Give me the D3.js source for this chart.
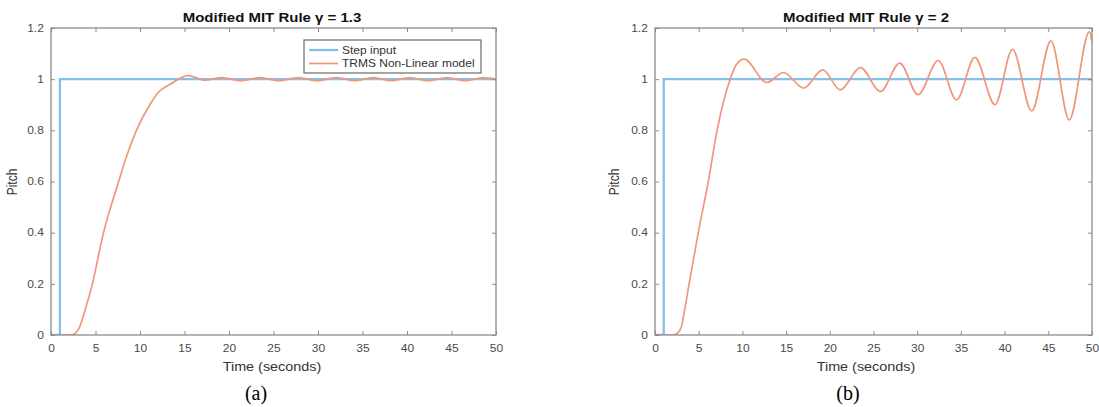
<!DOCTYPE html>
<html>
<head>
<meta charset="utf-8">
<script src="https://cdn.jsdelivr.net/npm/d3@7"></script>
<style>
  html, body { margin: 0; padding: 0; background: #fff; }
  svg { display: block; }
</style>
</head>
<body>
<svg id="chart" width="1099" height="407"></svg>
<script>
// Axis ticks
const timeTicks = [0, 5, 10, 15, 20, 25, 30, 35, 40, 45, 50];
const pitchTicks = [0, 0.2, 0.4, 0.6, 0.8, 1, 1.2];

// Step reference (unit step at t = 1 s)
const stepTime = [0, 1, 1, 50];
const stepValue = [0, 0, 1, 1];

// Pitch response, gamma = 1.3
const timeA = [0, 1, 2.2, 2.7, 3.2, 3.85, 4.65, 5.9, 7.6, 8.5, 9.6, 11.1, 12.1, 13.4, 15.4, 17.3, 19.2, 21.3, 23.5, 25.6, 27.8, 29.9, 32.1, 34.1, 36.2, 38.2, 40.3, 42.4, 44.5, 46.5, 48.6, 50];
const pitchA = [0, 0, 0, 0.006, 0.03, 0.1, 0.2, 0.4, 0.6, 0.7, 0.8, 0.9, 0.95, 0.98, 1.014, 0.996, 1.006, 0.994, 1.006, 0.994, 1.006, 0.994, 1.006, 0.994, 1.006, 0.994, 1.006, 0.994, 1.006, 0.994, 1.006, 1.0];

// Pitch response, gamma = 2
const timeB = [0, 1, 2.1, 2.6, 3, 3.4, 3.9, 4.95, 6.1, 7.1, 8.6, 9.3, 10.2, 12.8, 14.7, 17.0, 19.2, 21.2, 23.5, 25.8, 28.0, 30.1, 32.4, 34.5, 36.6, 38.9, 40.9, 43.1, 45.3, 47.4, 49.7, 50];
const pitchB = [0, 0, 0, 0.008, 0.03, 0.1, 0.2, 0.4, 0.6, 0.8, 1.0, 1.056, 1.078, 0.987, 1.026, 0.965, 1.036, 0.958, 1.045, 0.952, 1.063, 0.939, 1.073, 0.919, 1.085, 0.90, 1.117, 0.876, 1.15, 0.841, 1.186, 1.147];

const legendLabels = ["Step input", "TRMS Non-Linear model"];

const stepColor = "#86bfe8";
const respColor = "#f0967a";
const axisColor = "#8c8c8c";
const labelColor = "#4a4a4a";
const font = "'Liberation Sans', Arial, Helvetica, sans-serif";
const stretch = 1.2; // figure text is rendered slightly wide

const svg = d3.select("#chart");

function zip(xs, ys) { return xs.map((x, i) => ({ t: x, v: ys[i] })); }

function wideText(parent, x, y, str, opts) {
  const t = parent.append("text")
    .attr("transform", `translate(${x},${y}) scale(${stretch},1)` + (opts.rotate ? ` rotate(${opts.rotate})` : ""))
    .attr("text-anchor", opts.anchor || "middle")
    .attr("fill", opts.fill || "#333")
    .style("font-family", font)
    .style("font-size", opts.size)
    .text(str);
  if (opts.bold) t.style("font-weight", "bold");
  return t;
}

function drawPanel(opt) {
  const x = d3.scaleLinear().domain([0, 50]).range([opt.left, opt.right]);
  const y = d3.scaleLinear().domain([0, 1.2]).range([opt.bottom, opt.top]);
  const g = svg.append("g");

  // Curves, clipped to the axes box
  const clipId = "clip-" + opt.id;
  svg.append("clipPath").attr("id", clipId)
    .append("rect")
    .attr("x", opt.left).attr("y", opt.top)
    .attr("width", opt.right - opt.left).attr("height", opt.bottom - opt.top);

  const plot = g.append("g").attr("clip-path", `url(#${clipId})`);

  const stepLine = d3.line().x(d => x(d.t)).y(d => y(d.v));
  plot.append("path")
    .datum(zip(stepTime, stepValue))
    .attr("d", stepLine)
    .attr("fill", "none")
    .attr("stroke", stepColor)
    .attr("stroke-width", 2.3);

  const respLine = d3.line().x(d => x(d.t)).y(d => y(d.v)).curve(d3.curveMonotoneX);
  plot.append("path")
    .datum(zip(opt.time, opt.pitch))
    .attr("d", respLine)
    .attr("fill", "none")
    .attr("stroke", respColor)
    .attr("stroke-width", 1.7);

  // Axes: ticks pointing inward on all four sides
  const tickLen = 4;
  const styleAxis = sel => {
    sel.selectAll(".domain").remove();
    sel.selectAll(".tick line").attr("stroke", axisColor).attr("stroke-width", 1);
    sel.selectAll(".tick text")
      .attr("transform", `scale(${stretch},1)`)
      .attr("fill", labelColor)
      .style("font-family", font)
      .style("font-size", "10px");
  };

  g.append("g")
    .attr("transform", `translate(0,${opt.bottom})`)
    .call(d3.axisBottom(x).tickValues(timeTicks).tickSizeInner(-tickLen).tickSizeOuter(0).tickPadding(10).tickFormat(d3.format("d")))
    .call(styleAxis);
  g.append("g")
    .attr("transform", `translate(0,${opt.top})`)
    .call(d3.axisTop(x).tickValues(timeTicks).tickSizeInner(-tickLen).tickSizeOuter(0).tickFormat(""))
    .call(styleAxis);
  g.append("g")
    .attr("transform", `translate(${opt.left},0)`)
    .call(d3.axisLeft(y).tickValues(pitchTicks).tickSizeInner(-tickLen).tickSizeOuter(0).tickPadding(6).tickFormat(d => d3.format("~g")(d)))
    .call(styleAxis);
  g.append("g")
    .attr("transform", `translate(${opt.right},0)`)
    .call(d3.axisRight(y).tickValues(pitchTicks).tickSizeInner(-tickLen).tickSizeOuter(0).tickFormat(""))
    .call(styleAxis);

  // Axes box
  g.append("rect")
    .attr("x", opt.left).attr("y", opt.top)
    .attr("width", opt.right - opt.left).attr("height", opt.bottom - opt.top)
    .attr("fill", "none")
    .attr("stroke", axisColor)
    .attr("stroke-width", 1.3);

  // Title and axis labels
  wideText(g, opt.titleX, 22, opt.title, { size: "12.5px", bold: true, fill: "#111" });
  wideText(g, opt.titleX, 371, "Time (seconds)", { size: "12px" });
  wideText(g, opt.ylabelX, 182, "Pitch", { size: "12px", rotate: -90 });

  // Panel caption
  g.append("text")
    .attr("x", opt.captionX).attr("y", 400)
    .attr("text-anchor", "middle")
    .attr("fill", "#000")
    .style("font-family", "'Liberation Serif', 'Times New Roman', serif")
    .style("font-size", "20px")
    .text(opt.caption);

  return { x, y, g };
}

const panelA = drawPanel({
  id: "a", left: 51, right: 496, top: 28, bottom: 335,
  time: timeA, pitch: pitchA,
  title: "Modified MIT Rule \u03b3 = 1.3", titleX: 272, ylabelX: 17, captionX: 256, caption: "(a)"
});

drawPanel({
  id: "b", left: 655, right: 1092, top: 28, bottom: 335,
  time: timeB, pitch: pitchB,
  title: "Modified MIT Rule \u03b3 = 2", titleX: 866, ylabelX: 619, captionX: 848, caption: "(b)"
});

// Legend in the first panel
const legend = panelA.g.append("g").attr("transform", "translate(304,40)");
legend.append("rect")
  .attr("width", 177).attr("height", 33)
  .attr("fill", "#fff")
  .attr("stroke", "#6a6a6a")
  .attr("stroke-width", 1.2);
[stepColor, respColor].forEach((c, i) => {
  const yy = 10 + i * 13.5;
  legend.append("line")
    .attr("x1", 5).attr("x2", 34).attr("y1", yy).attr("y2", yy)
    .attr("stroke", c).attr("stroke-width", i === 0 ? 2.3 : 1.7);
  wideText(legend, 38, yy + 3.5, legendLabels[i], { size: "10px", anchor: "start" });
});
</script>
</body>
</html>
